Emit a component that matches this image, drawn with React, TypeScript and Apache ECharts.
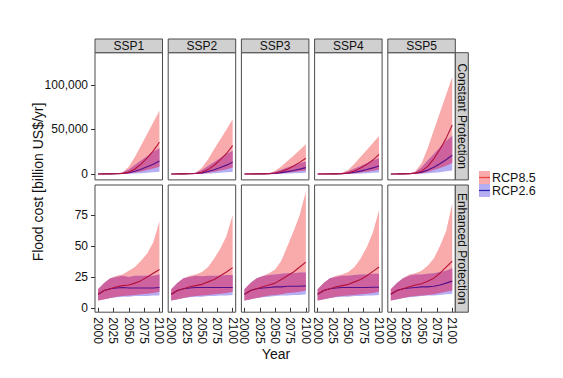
import React, { useEffect, useRef } from "react";
import * as echarts from "echarts";

// ---------- data ----------
const years = [2000, 2010, 2020, 2030, 2040, 2050, 2060, 2070, 2080, 2090, 2100];
const ssps = ["SSP1", "SSP2", "SSP3", "SSP4", "SSP5"];
const rowLabels = ["Constant Protection", "Enhanced Protection"];
const xTicks = [2000, 2025, 2050, 2075, 2100];
const yTicksConst = [0, 50000, 100000];
const yTicksEnh = [0, 25, 50, 75];
const legendNames = ["RCP8.5", "RCP2.6"];

// Constant protection (billion US$/yr), one list per SSP
const constR85Hi = [
  [0, 50, 150, 400, 2000, 8000, 19000, 32000, 45000, 58000, 71000],
  [0, 50, 150, 350, 1700, 7000, 16500, 28000, 39000, 50000, 61500],
  [0, 30, 80, 200, 900, 3500, 8500, 14500, 20500, 27000, 33400],
  [0, 30, 90, 240, 1200, 4800, 11400, 19200, 27000, 34800, 42700],
  [0, 80, 230, 600, 3000, 12000, 29000, 49000, 69000, 89000, 109000],
];
const constR85Med = [
  [0, 30, 80, 200, 600, 2000, 5500, 11000, 18000, 26000, 35600],
  [0, 30, 80, 180, 550, 1800, 4900, 9800, 16000, 23000, 31800],
  [0, 20, 50, 110, 300, 1000, 2700, 5400, 8900, 13000, 17600],
  [0, 20, 50, 120, 360, 1200, 3300, 6600, 10800, 15600, 22100],
  [0, 45, 120, 300, 900, 3100, 8500, 17000, 27800, 40000, 55000],
];
const constR85Lo = [
  [0, 10, 30, 80, 200, 600, 1500, 2800, 4300, 6000, 8000],
  [0, 10, 30, 70, 180, 550, 1300, 2500, 3800, 5300, 7100],
  [0, 5, 15, 40, 100, 300, 700, 1400, 2100, 3000, 4000],
  [0, 6, 18, 50, 120, 360, 900, 1700, 2600, 3600, 4800],
  [0, 15, 45, 120, 300, 900, 2300, 4300, 6600, 9300, 12400],
];
const constR26Hi = [
  [0, 40, 120, 300, 1500, 5000, 10000, 15000, 20000, 25000, 29000],
  [0, 40, 110, 270, 1300, 4500, 9000, 13500, 18000, 22500, 26000],
  [0, 20, 60, 150, 700, 2400, 4800, 7200, 9600, 12000, 14000],
  [0, 25, 70, 180, 900, 3000, 6000, 9000, 12000, 15000, 17500],
  [0, 60, 180, 450, 2200, 7500, 15000, 22500, 30000, 37000, 43000],
];
const constR26Med = [
  [0, 25, 70, 180, 500, 1300, 3000, 5200, 8000, 11000, 14600],
  [0, 25, 65, 160, 450, 1200, 2700, 4700, 7200, 9900, 13100],
  [0, 15, 35, 90, 250, 650, 1500, 2600, 3900, 5400, 7100],
  [0, 15, 45, 110, 300, 800, 1850, 3200, 4900, 6800, 9000],
  [0, 35, 100, 260, 700, 1900, 4300, 7500, 11500, 16000, 21000],
];
const constR26Lo = [
  [0, 5, 15, 40, 100, 250, 500, 900, 1400, 2000, 2600],
  [0, 5, 15, 35, 90, 220, 450, 800, 1250, 1800, 2300],
  [0, 3, 8, 20, 50, 120, 250, 450, 700, 1000, 1300],
  [0, 3, 9, 25, 60, 150, 300, 550, 850, 1200, 1600],
  [0, 8, 22, 60, 150, 350, 700, 1300, 2000, 2900, 3800],
];

// Enhanced protection
const enhR85Hi = [
  [15, 20, 24, 26, 27, 30, 33, 38, 44, 53, 70],
  [15, 20, 24, 26, 27, 29, 33, 40, 48, 58, 75],
  [15, 20, 24, 26, 28, 31, 38, 50, 62, 75, 94],
  [15, 20, 24, 26, 27, 29, 33, 40, 49, 61, 79],
  [15, 20, 24, 27, 28, 30, 34, 40, 50, 62, 84.5],
];
const enhR85Med = [
  [11, 14, 15.5, 17, 18, 18.5, 20, 22, 25, 28, 31],
  [11, 14, 15.5, 17, 18, 19, 21, 23, 26, 29, 32.5],
  [11, 14, 15.5, 17, 18.5, 20, 23, 26, 29, 33, 37],
  [11, 14, 15.5, 17, 18, 19, 21, 23, 26, 29.5, 33],
  [11, 14, 15.5, 17, 18.5, 19.5, 21.5, 24, 28, 33, 37.8],
];
const enhR85Lo = [
  [6, 7, 8, 9, 9.5, 10, 10.5, 11, 11.5, 12, 13],
  [6, 7, 8, 9, 9.5, 10, 10.5, 11, 11.5, 12, 13],
  [6, 7, 8, 9, 10, 10.5, 11, 12, 12.5, 13, 14],
  [6, 7, 8, 9, 9.5, 10, 10.5, 11, 11.5, 12, 13],
  [6, 7, 8, 9, 9.5, 10, 10.5, 11, 12, 13, 14],
];
const enhR26Hi = [
  [15, 20, 24, 25, 26, 25, 26, 26, 26, 26, 27],
  [15, 20, 24, 25, 26, 25.5, 26, 26, 26, 26.5, 26.5],
  [15, 20, 24, 25.5, 26.5, 27, 27.5, 28, 28, 28.5, 28.6],
  [15, 20, 24, 25, 26, 26, 26.5, 27, 27, 27.5, 27.5],
  [15, 20, 24, 26, 27, 27, 27.5, 28, 29, 30, 32],
];
const enhR26Med = [
  [11, 14, 15.5, 16, 16.5, 16, 16, 16, 16, 16, 16.5],
  [11, 14, 15.5, 16, 16.5, 16.5, 16.5, 16.5, 16.5, 16.5, 16.5],
  [11, 14, 15.5, 16, 16.5, 17, 17, 17.5, 17.5, 17.5, 17.8],
  [11, 14, 15.5, 16, 16.5, 16.5, 16.5, 16.5, 16.5, 16.7, 16.7],
  [11, 14, 15.5, 16, 16.5, 17, 17, 17.5, 18.5, 20, 21.6],
];
const enhR26Lo = [
  [6, 7, 8, 8.5, 9, 9, 9.5, 9.5, 9.5, 10, 10],
  [6, 7, 8, 8.5, 9, 9, 9.5, 9.5, 10, 10, 10.3],
  [6, 7, 8, 8.5, 9, 9.5, 10, 10, 10.5, 10.5, 11],
  [6, 7, 8, 8.5, 9, 9, 9.5, 9.5, 10, 10, 10.3],
  [6, 7, 8, 8.5, 9, 9.5, 10, 10, 10.5, 11, 11.5],
];

// ---------- styles / layout ----------
const FONT = "'Liberation Sans', Arial, Helvetica, sans-serif";
const RED_FILL = "#f9aaab";
const BLUE_FILL = "#b5aef3";
const OVER_FILL = "#cd629f";
const RED_LINE = "#b5123a";
const BLUE_LINE = "#52108a";
const LEG_RED_LINE = "#e8443c";
const LEG_BLUE_LINE = "#2a22b0";

const PANEL_LEFT = 95;
const PANEL_STEP = 73.2;
const PANEL_W = 67.5;
const ROW_TOP = [52.7, 185];
const PANEL_H = 127.2;
const STRIP_TOP = 39;
const STRIP_H = 13.7;
const RIGHT_STRIP_X = PANEL_LEFT + 4 * PANEL_STEP + PANEL_W;
const RIGHT_STRIP_W = 13;

export default function App() {
  const ref = useRef<HTMLDivElement>(null);

  useEffect(() => {
    if (!ref.current) return;
    const chart = echarts.init(ref.current, undefined, { renderer: "svg" });

    const grids: any[] = [];
    const xAxes: any[] = [];
    const yAxes: any[] = [];
    const series: any[] = [];
    const graphics: any[] = [];

    const pair = (arr: number[]) => years.map((y, i) => [y, arr[i]]);

    for (let r = 0; r < 2; r++) {
      for (let c = 0; c < 5; c++) {
        const p = r * 5 + c;
        const left = PANEL_LEFT + c * PANEL_STEP;
        const top = ROW_TOP[r];
        grids.push({
          left,
          top,
          width: PANEL_W,
          height: PANEL_H,
          show: true,
          backgroundColor: "#ffffff",
          borderColor: "#4a4a4a",
          borderWidth: 1,
          containLabel: false,
          outerBoundsMode: "none",
        });
        xAxes.push({
          type: "value",
          gridIndex: p,
          min: 1995,
          max: 2105,
          splitLine: { show: false },
          axisLine: { show: false },
          axisTick: {
            show: r === 1,
            customValues: xTicks,
            length: 4,
            lineStyle: { color: "#333" },
          },
          axisLabel: {
            show: r === 1,
            customValues: xTicks,
            rotate: -90,
            fontSize: 12,
            color: "#111",
            margin: 5,
            fontFamily: FONT,
            formatter: (v: number) => String(v),
          },
        });
        const yTicks = r === 0 ? yTicksConst : yTicksEnh;
        yAxes.push({
          type: "value",
          gridIndex: p,
          min: r === 0 ? -6700 : -3.5,
          max: r === 0 ? 136300 : 99.3,
          splitLine: { show: false },
          axisLine: { show: false },
          axisTick: {
            show: c === 0,
            customValues: yTicks,
            length: 4,
            lineStyle: { color: "#333" },
          },
          axisLabel: {
            show: c === 0,
            customValues: yTicks,
            fontSize: 12,
            color: "#111",
            margin: 7,
            fontFamily: FONT,
            formatter: (v: number) => Number(v).toLocaleString("en-US"),
          },
        });

        const rHi = (r === 0 ? constR85Hi : enhR85Hi)[c];
        const rMed = (r === 0 ? constR85Med : enhR85Med)[c];
        const rLo = (r === 0 ? constR85Lo : enhR85Lo)[c];
        const bHi = (r === 0 ? constR26Hi : enhR26Hi)[c];
        const bMed = (r === 0 ? constR26Med : enhR26Med)[c];
        const bLo = (r === 0 ? constR26Lo : enhR26Lo)[c];

        const band = (lo: number[], hi: number[], color: string) => {
          series.push({
            type: "custom",
            xAxisIndex: p,
            yAxisIndex: p,
            silent: true,
            clip: true,
            data: years.map((y, i) => [y, lo[i], hi[i]]),
            encode: { x: 0, y: [1, 2] },
            renderItem: (params: any, api: any) => {
              if (params.dataIndex !== 0) return null;
              const pts: number[][] = [];
              for (let i = 0; i < years.length; i++) pts.push(api.coord([years[i], hi[i]]));
              for (let i = years.length - 1; i >= 0; i--) pts.push(api.coord([years[i], lo[i]]));
              return {
                type: "polygon",
                shape: { points: pts },
                style: { fill: color, stroke: null },
              };
            },
          });
        };
        band(rLo, rHi, RED_FILL);
        band(bLo, bHi, BLUE_FILL);
        const oLo = rLo.map((v, i) => Math.max(v, bLo[i]));
        const oHi = rHi.map((v, i) => Math.max(oLo[i], Math.min(v, bHi[i])));
        band(oLo, oHi, OVER_FILL);

        series.push({
          type: "line",
          xAxisIndex: p,
          yAxisIndex: p,
          data: pair(bMed),
          symbol: "none",
          showSymbol: false,
          silent: true,
          lineStyle: { width: 1.1, color: BLUE_LINE },
        });
        series.push({
          type: "line",
          xAxisIndex: p,
          yAxisIndex: p,
          data: pair(rMed),
          symbol: "none",
          showSymbol: false,
          silent: true,
          lineStyle: { width: 1.1, color: RED_LINE },
        });
      }
    }

    // top strips
    ssps.forEach((s, c) => {
      const left = PANEL_LEFT + c * PANEL_STEP;
      graphics.push({
        type: "rect",
        shape: { x: left, y: STRIP_TOP, width: PANEL_W, height: STRIP_H },
        style: { fill: "#d0d0d0", stroke: "#4a4a4a", lineWidth: 1 },
      });
      graphics.push({
        type: "text",
        x: left + PANEL_W / 2,
        y: STRIP_TOP + STRIP_H / 2 + 0.5,
        style: {
          text: s,
          fill: "#111",
          font: `12px ${FONT}`,
          textAlign: "center",
          textVerticalAlign: "middle",
        },
      });
    });
    // right strips
    rowLabels.forEach((s, r) => {
      graphics.push({
        type: "rect",
        shape: { x: RIGHT_STRIP_X, y: ROW_TOP[r], width: RIGHT_STRIP_W, height: PANEL_H },
        style: { fill: "#d0d0d0", stroke: "#4a4a4a", lineWidth: 1 },
      });
      graphics.push({
        type: "text",
        x: RIGHT_STRIP_X + RIGHT_STRIP_W / 2 + 0.5,
        y: ROW_TOP[r] + PANEL_H / 2,
        rotation: -Math.PI / 2,
        style: {
          text: s,
          fill: "#111",
          font: `12px ${FONT}`,
          textAlign: "center",
          textVerticalAlign: "middle",
        },
      });
    });
    // axis titles
    graphics.push({
      type: "text",
      x: 38,
      y: 182,
      rotation: Math.PI / 2,
      style: {
        text: "Flood cost [billion US$/yr]",
        fill: "#111",
        font: `14px ${FONT}`,
        textAlign: "center",
        textVerticalAlign: "middle",
      },
    });
    graphics.push({
      type: "text",
      x: 276,
      y: 354,
      style: {
        text: "Year",
        fill: "#111",
        font: `14px ${FONT}`,
        textAlign: "center",
        textVerticalAlign: "middle",
      },
    });
    // legend
    const legFills = [RED_FILL, BLUE_FILL];
    const legLines = [LEG_RED_LINE, LEG_BLUE_LINE];
    legendNames.forEach((n, i) => {
      const y = 171 + i * 13;
      graphics.push({
        type: "rect",
        shape: { x: 479, y, width: 11, height: 13 },
        style: { fill: legFills[i] },
      });
      graphics.push({
        type: "line",
        shape: { x1: 479, y1: y + 6.5, x2: 490, y2: y + 6.5 },
        style: { stroke: legLines[i], lineWidth: 1.2 },
      });
      graphics.push({
        type: "text",
        x: 492,
        y: y + 6.5,
        style: {
          text: n,
          fill: "#111",
          font: `12.5px ${FONT}`,
          textAlign: "left",
          textVerticalAlign: "middle",
        },
      });
    });

    chart.setOption({
      animation: false,
      backgroundColor: "#ffffff",
      grid: grids,
      xAxis: xAxes,
      yAxis: yAxes,
      series,
      graphic: graphics,
    });

    return () => chart.dispose();
  }, []);

  return (
    <div
      ref={ref}
      style={{ position: "fixed", left: 0, top: 0, width: 563, height: 378 }}
    />
  );
}
